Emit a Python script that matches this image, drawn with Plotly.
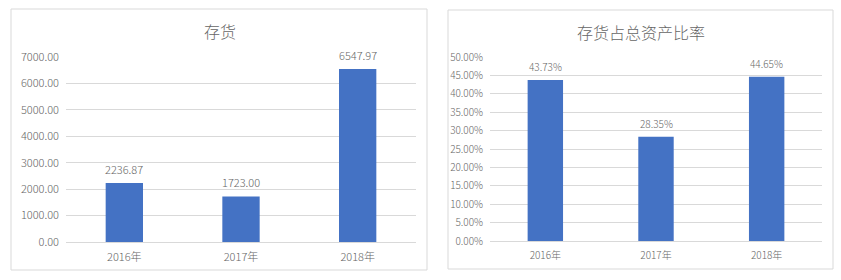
import plotly.graph_objects as go

categories = ["2016年", "2017年", "2018年"]
inventory = [2236.87, 1723.00, 6547.97]
inventory_ratio = [0.4373, 0.2835, 0.4465]
title_left = "存货"
title_right = "存货占总资产比率"

W, H = 841, 280
FONT = "Noto Sans CJK SC"
GRAY = "#666666"
GRID = "#d9d9d9"
BAR = "#4472c4"

def px(x):
    return x / W

def py(y):
    return 1 - y / H

fig = go.Figure()
fig.add_trace(go.Bar(x=categories, y=inventory, marker=dict(color=BAR, line=dict(width=0)),
                     xaxis="x", yaxis="y", showlegend=False, hoverinfo="x+y"))
fig.add_trace(go.Bar(x=categories, y=inventory_ratio, marker=dict(color=BAR, line=dict(width=0)),
                     xaxis="x2", yaxis="y2", showlegend=False, hoverinfo="x+y"))

annotations = []
for c, v in zip(categories, inventory):
    annotations.append(dict(x=c, y=v, xref="x", yref="y", text=f"{v:.2f}", showarrow=False,
                            yanchor="bottom", yshift=4, font=dict(family=FONT, size=11, color=GRAY, weight=300)))
for c, v in zip(categories, inventory_ratio):
    annotations.append(dict(x=c, y=v, xref="x2", yref="y2", text=f"{v*100:.2f}%", showarrow=False,
                            yanchor="bottom", yshift=4, font=dict(family=FONT, size=10, color=GRAY, weight=300)))
annotations.append(dict(x=px(220), y=py(31), xref="paper", yref="paper", text=title_left, showarrow=False,
                        xanchor="center", yanchor="middle", font=dict(family=FONT, size=16, color=GRAY, weight=300)))
annotations.append(dict(x=px(641), y=py(32), xref="paper", yref="paper", text=title_right, showarrow=False,
                        xanchor="center", yanchor="middle", font=dict(family=FONT, size=16, color=GRAY, weight=300)))

shapes = [
    dict(type="rect", xref="paper", yref="paper", x0=px(11), x1=px(427), y0=py(270), y1=py(9),
         line=dict(color=GRID, width=1), fillcolor="rgba(0,0,0,0)", layer="below"),
    dict(type="rect", xref="paper", yref="paper", x0=px(448), x1=px(833), y0=py(269), y1=py(10),
         line=dict(color=GRID, width=1), fillcolor="rgba(0,0,0,0)", layer="below"),
]

tickfont = dict(family=FONT, size=11, color=GRAY, weight=300)
tickfont2 = dict(family=FONT, size=10, color=GRAY, weight=300)

fig.update_layout(
    width=W, height=H, margin=dict(l=0, r=0, t=0, b=0, autoexpand=False),
    paper_bgcolor="white", plot_bgcolor="white",
    bargap=0.68,
    annotations=annotations, shapes=shapes,
    xaxis=dict(domain=[px(66), px(416)], anchor="y", tickfont=tickfont, showgrid=False,
               showline=True, linecolor=GRID, ticks="", automargin=False, ticklabelstandoff=5),
    yaxis=dict(domain=[py(242), py(57)], anchor="x", range=[0, 7000], dtick=1000, tickformat=".2f",
               tickfont=tickfont, gridcolor=GRID, zeroline=False, showline=False, ticks="",
               ticklabelstandoff=6, automargin=False),
    xaxis2=dict(domain=[px(490), px(822)], anchor="y2", tickfont=tickfont2, showgrid=False,
                showline=True, linecolor=GRID, ticks="", automargin=False, ticklabelstandoff=5),
    yaxis2=dict(domain=[py(241), py(57)], anchor="x2", range=[0, 0.5], dtick=0.05, tickformat=".2%",
                tickfont=tickfont2, gridcolor=GRID, zeroline=False, showline=False, ticks="",
                ticklabelstandoff=6, automargin=False),
)

fig.write_html("out.html")
